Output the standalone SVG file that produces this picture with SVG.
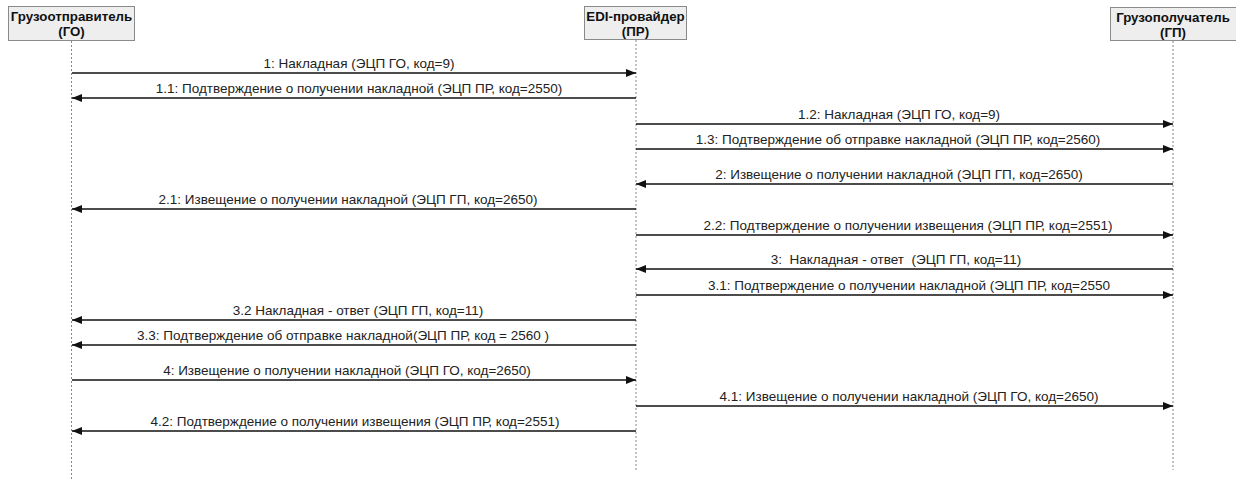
<svg xmlns="http://www.w3.org/2000/svg" width="1236" height="481" viewBox="0 0 1236 481">
<style>
.box{fill:#eeeeee;stroke:#8a8a8a;stroke-width:1}
.hd{font-family:"Liberation Sans",Arial,sans-serif;font-weight:bold;font-size:13.3px;fill:#111;text-anchor:middle}
.life{stroke:#888;stroke-width:1;stroke-dasharray:2,2;fill:none}
.msg{stroke:#111;stroke-width:1.5;fill:none;marker-end:url(#ah)}
.lb{font-family:"Liberation Sans",Arial,sans-serif;font-size:13.5px;fill:#222;text-anchor:middle;white-space:pre}
</style>
<defs>
<marker id="ah" markerUnits="userSpaceOnUse" markerWidth="10" markerHeight="10" viewBox="0 0 10 10" refX="10" refY="5" orient="auto">
<path d="M0,1 L10,5 L0,9 Z" fill="#111"/>
</marker>
</defs>
<rect width="1236" height="481" fill="#ffffff"/>
<g id="node-go">
<rect class="box" x="8.5" y="6.5" width="126" height="34"/>
<text class="hd" x="71.5" y="21">Грузоотправитель</text>
<text class="hd" x="71.5" y="36">(ГО)</text>
<line class="life" x1="71.5" y1="41" x2="71.5" y2="481"/>
</g>
<g id="node-pr">
<rect class="box" x="584.5" y="6.5" width="102" height="33"/>
<text class="hd" x="635.5" y="21">EDI-провайдер</text>
<text class="hd" x="635.5" y="36">(ПР)</text>
<line class="life" x1="636" y1="40" x2="636" y2="470"/>
</g>
<g id="node-gp">
<rect class="box" x="1110.5" y="7.5" width="126" height="33"/>
<text class="hd" x="1173" y="22">Грузополучатель</text>
<text class="hd" x="1173" y="37">(ГП)</text>
<line class="life" x1="1173" y1="41" x2="1173" y2="470"/>
</g>
<g id="connectors">
<line class="msg" x1="72" y1="73" x2="636" y2="73"/>
<text class="lb" x="359" y="68">1: Накладная (ЭЦП ГО, код=9)</text>
<line class="msg" x1="636" y1="98" x2="72" y2="98"/>
<text class="lb" x="359" y="93">1.1: Подтверждение о получении накладной (ЭЦП ПР, код=2550)</text>
<line class="msg" x1="636" y1="124" x2="1173" y2="124"/>
<text class="lb" x="899" y="119">1.2: Накладная (ЭЦП ГО, код=9)</text>
<line class="msg" x1="636" y1="149" x2="1173" y2="149"/>
<text class="lb" x="898" y="144">1.3: Подтверждение об отправке накладной (ЭЦП ПР, код=2560)</text>
<line class="msg" x1="1173" y1="184" x2="636" y2="184"/>
<text class="lb" x="899" y="179">2: Извещение о получении накладной (ЭЦП ГП, код=2650)</text>
<line class="msg" x1="636" y1="209" x2="72" y2="209"/>
<text class="lb" x="348" y="204">2.1: Извещение о получении накладной (ЭЦП ГП, код=2650)</text>
<line class="msg" x1="636" y1="235" x2="1173" y2="235"/>
<text class="lb" x="908" y="230">2.2: Подтверждение о получении извещения (ЭЦП ПР, код=2551)</text>
<line class="msg" x1="1173" y1="269" x2="636" y2="269"/>
<text class="lb" x="896" y="264">3:  Накладная - ответ  (ЭЦП ГП, код=11)</text>
<line class="msg" x1="636" y1="295" x2="1173" y2="295"/>
<text class="lb" x="909" y="290">3.1: Подтверждение о получении накладной (ЭЦП ПР, код=2550</text>
<line class="msg" x1="636" y1="320" x2="72" y2="320"/>
<text class="lb" x="358" y="315">3.2 Накладная - ответ (ЭЦП ГП, код=11)</text>
<line class="msg" x1="636" y1="345" x2="72" y2="345"/>
<text class="lb" x="343" y="340">3.3: Подтверждение об отправке накладной(ЭЦП ПР, код = 2560 )</text>
<line class="msg" x1="72" y1="380" x2="636" y2="380"/>
<text class="lb" x="347" y="375">4: Извещение о получении накладной (ЭЦП ГО, код=2650)</text>
<line class="msg" x1="636" y1="406" x2="1173" y2="406"/>
<text class="lb" x="909" y="401">4.1: Извещение о получении накладной (ЭЦП ГО, код=2650)</text>
<line class="msg" x1="636" y1="431" x2="72" y2="431"/>
<text class="lb" x="355" y="426">4.2: Подтверждение о получении извещения (ЭЦП ПР, код=2551)</text>
</g>
</svg>
